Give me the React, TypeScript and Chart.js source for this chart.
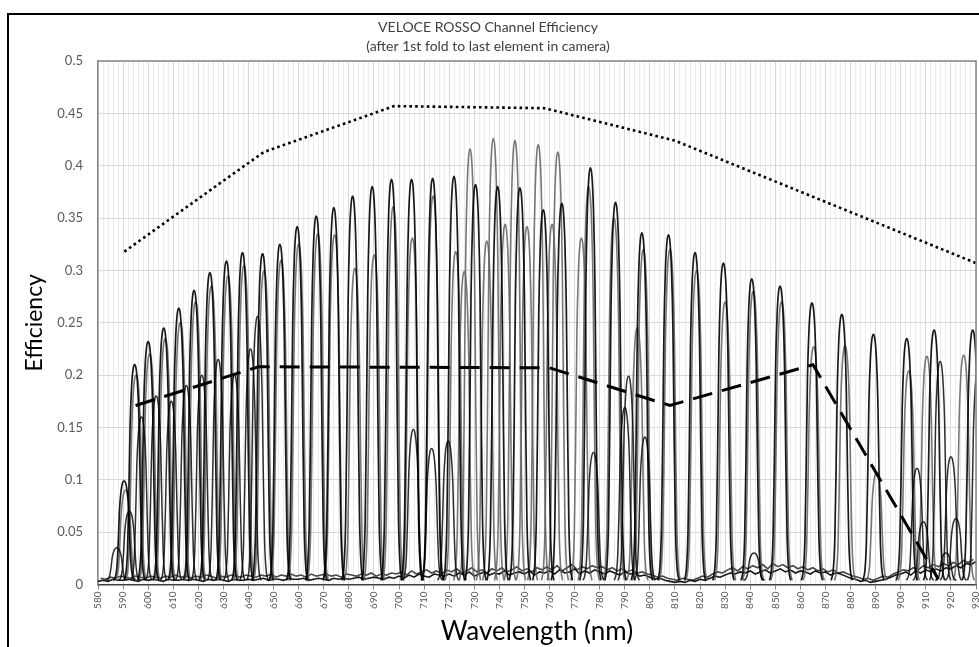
import React, { useEffect, useRef } from 'react';
import { Chart, registerables } from 'chart.js';

Chart.register(...registerables);

// ---------- data ----------
const titleLines = ['VELOCE ROSSO Channel Efficiency', '(after 1st fold to last element in camera)'];
const xAxisTitle = 'Wavelength (nm)';
const yAxisTitle = 'Efficiency';

const xMin = 580;
const xMax = 930;
const xStep = 2;
const xLabelEvery = 10;
const yMin = 0;
const yMax = 0.5;
const yStep = 0.05;

// black channel traces: peak centre (nm) and peak efficiency
const blackPeakCenters = [590.4, 594.6, 600.0, 606.2, 612.2, 618.3, 624.6, 631.2, 637.6, 645.6, 652.5, 659.4, 667.0, 674.0, 681.5, 689.3, 697.0, 705.0, 713.4, 721.9, 730.5, 739.3, 748.2, 757.5, 764.9, 776.3, 786.3, 796.8, 807.4, 818.0, 829.3, 840.6, 851.9, 864.6, 876.5, 889.1, 902.4, 913.3, 928.7];
const blackPeakHeights = [0.099, 0.210, 0.232, 0.245, 0.264, 0.281, 0.298, 0.309, 0.317, 0.316, 0.325, 0.342, 0.352, 0.360, 0.371, 0.380, 0.387, 0.387, 0.388, 0.390, 0.382, 0.380, 0.379, 0.358, 0.364, 0.398, 0.365, 0.336, 0.334, 0.317, 0.307, 0.292, 0.285, 0.269, 0.258, 0.239, 0.235, 0.243, 0.243];

// grey channel traces
const greyPeakCenters = [591.0, 595.2, 600.6, 606.8, 612.8, 618.9, 625.2, 631.8, 638.2, 646.2, 653.0, 660.0, 667.6, 674.3, 682.4, 690.1, 697.7, 705.3, 713.6, 722.6, 726.0, 728.3, 735.0, 737.6, 742.3, 746.2, 751.0, 755.5, 761.0, 763.3, 772.7, 775.6, 785.7, 795.0, 797.4, 808.0, 818.6, 830.0, 841.2, 852.5, 865.3, 877.8, 890.4, 903.2, 910.4, 925.1];
const greyPeakHeights = [0.090, 0.200, 0.220, 0.235, 0.250, 0.270, 0.285, 0.295, 0.305, 0.300, 0.310, 0.325, 0.335, 0.334, 0.302, 0.315, 0.361, 0.331, 0.371, 0.318, 0.299, 0.416, 0.328, 0.426, 0.344, 0.424, 0.342, 0.420, 0.344, 0.413, 0.331, 0.380, 0.350, 0.245, 0.320, 0.320, 0.300, 0.270, 0.280, 0.270, 0.227, 0.228, 0.107, 0.204, 0.218, 0.219];

// lower / interleaved traces
const lowPeakCenters = [587.5, 592.5, 597.3, 603.2, 609.2, 615.2, 621.4, 627.9, 634.4, 640.8, 643.6, 705.7, 713.0, 719.6, 777.5, 790.0, 791.5, 798.0, 841.5, 906.5, 909.0, 915.7, 918.0, 920.0, 922.0, 930.8];
const lowPeakHeights = [0.035, 0.070, 0.160, 0.180, 0.175, 0.190, 0.200, 0.215, 0.200, 0.225, 0.256, 0.148, 0.130, 0.137, 0.126, 0.169, 0.199, 0.141, 0.030, 0.111, 0.060, 0.213, 0.030, 0.122, 0.063, 0.205];

// shape of one channel peak (offset in nm, fraction of peak height)
const peakShapeOffsets = [-4.2, -3.4, -2.8, -2.3, -1.8, -1.2, -0.6, 0, 0.6, 1.2, 1.8, 2.3, 2.8, 3.4, 4.2];
const peakShapeLevels = [0, 0.04, 0.15, 0.4, 0.72, 0.9, 0.98, 1, 0.98, 0.9, 0.72, 0.4, 0.15, 0.04, 0];
const peakBase = 0.004;

// noise floor traces
const floorAStart = 580;
const floorAValues = [
  0.003, 0.004, 0.003, 0.005, 0.004, 0.004, 0.005, 0.004, 0.003, 0.005,
  0.004, 0.005, 0.004, 0.003, 0.005, 0.004, 0.004, 0.005, 0.004, 0.005,
  0.004, 0.003, 0.005, 0.004, 0.005, 0.004, 0.003, 0.005, 0.004, 0.004,
  0.005, 0.004, 0.005, 0.006, 0.004, 0.005, 0.005, 0.004, 0.006, 0.005,
  0.005, 0.006, 0.004, 0.005, 0.006, 0.005, 0.004, 0.006, 0.005, 0.006,
  0.005, 0.006, 0.007, 0.005, 0.006, 0.007, 0.006, 0.005, 0.007, 0.006,
  0.008, 0.006, 0.009, 0.007, 0.010, 0.008, 0.007, 0.010, 0.009, 0.008,
  0.010, 0.008, 0.011, 0.009, 0.012, 0.008, 0.010, 0.012, 0.009, 0.011,
  0.010, 0.013, 0.009, 0.011, 0.012, 0.010, 0.013, 0.009, 0.012, 0.011,
  0.013, 0.010, 0.014, 0.011, 0.012, 0.015, 0.010, 0.013, 0.011, 0.014,
  0.012, 0.010, 0.013, 0.011, 0.009, 0.012, 0.010, 0.011, 0.008, 0.009,
  0.007, 0.005, 0.006, 0.004, 0.003, 0.002, 0.003, 0.002, 0.004, 0.003,
  0.005, 0.004, 0.006, 0.008, 0.007, 0.009, 0.011, 0.010, 0.012, 0.011,
  0.013, 0.010, 0.012, 0.014, 0.011, 0.013, 0.015, 0.012, 0.014, 0.011,
  0.013, 0.012, 0.010, 0.013, 0.011, 0.012, 0.009, 0.011, 0.010, 0.008,
  0.006, 0.005, 0.003, 0.004, 0.002, 0.003, 0.004, 0.005, 0.007, 0.009,
  0.010, 0.012, 0.009, 0.013, 0.011, 0.014, 0.012, 0.015, 0.013, 0.016,
  0.015, 0.018, 0.016, 0.020, 0.019, 0.022,
];
const floorBStart = 581;
const floorBValues = [
  0.006, 0.005, 0.007, 0.006, 0.008, 0.007, 0.006, 0.008, 0.007, 0.006,
  0.008, 0.007, 0.006, 0.008, 0.007, 0.009, 0.007, 0.008, 0.006, 0.008,
  0.007, 0.009, 0.008, 0.006, 0.008, 0.007, 0.009, 0.008, 0.007, 0.009,
  0.008, 0.007, 0.009, 0.008, 0.010, 0.007, 0.009, 0.008, 0.010, 0.008,
  0.009, 0.007, 0.010, 0.008, 0.009, 0.010, 0.008, 0.009, 0.007, 0.010,
  0.009, 0.008, 0.010, 0.009, 0.011, 0.008, 0.010, 0.009, 0.011, 0.010,
  0.012, 0.009, 0.013, 0.010, 0.012, 0.014, 0.011, 0.013, 0.010, 0.014,
  0.012, 0.015, 0.011, 0.013, 0.016, 0.012, 0.014, 0.011, 0.015, 0.013,
  0.016, 0.012, 0.014, 0.017, 0.013, 0.015, 0.012, 0.016, 0.014, 0.017,
  0.014, 0.018, 0.013, 0.016, 0.019, 0.014, 0.017, 0.015, 0.018, 0.016,
  0.017, 0.014, 0.016, 0.013, 0.015, 0.012, 0.014, 0.011, 0.012, 0.010,
  0.009, 0.007, 0.008, 0.006, 0.005, 0.004, 0.006, 0.005, 0.004, 0.006,
  0.008, 0.007, 0.010, 0.012, 0.011, 0.014, 0.016, 0.013, 0.017, 0.015,
  0.018, 0.016, 0.019, 0.015, 0.020, 0.017, 0.019, 0.016, 0.018, 0.015,
  0.017, 0.014, 0.016, 0.013, 0.015, 0.012, 0.014, 0.011, 0.012, 0.010,
  0.008, 0.007, 0.005, 0.006, 0.004, 0.006, 0.008, 0.007, 0.010, 0.012,
  0.014, 0.013, 0.016, 0.014, 0.018, 0.016, 0.019, 0.017, 0.020, 0.018,
  0.021, 0.019, 0.023, 0.021, 0.024,
];

// reference curves
const dottedX = [590.5, 646, 698, 758, 810, 930];
const dottedY = [0.318, 0.413, 0.457, 0.455, 0.424, 0.307];
const dashedX = [595, 644, 760, 808, 865, 915];
const dashedY = [0.171, 0.208, 0.207, 0.171, 0.21, 0.005];

// ---------- helpers ----------
const FONT = 'Lato, "Open Sans", "Liberation Sans", sans-serif';

function peakPoints(c: number, h: number) {
  return peakShapeOffsets.map((o, i) => ({ x: c + o, y: peakBase + (h - peakBase) * peakShapeLevels[i] }));
}

function peakDatasets(centers: number[], heights: number[], color: string, width: number) {
  return centers.map((c, i) => ({
    data: peakPoints(c, heights[i]),
    borderColor: color,
    borderWidth: width,
    pointRadius: 0,
    fill: false,
    cubicInterpolationMode: 'monotone' as const,
  }));
}

const framePlugin = {
  id: 'plotFrame',
  afterDraw(chart: any) {
    const { ctx, chartArea } = chart;
    ctx.save();
    ctx.strokeStyle = '#868686';
    ctx.lineWidth = 1.5;
    ctx.beginPath();
    ctx.moveTo(chartArea.left, chartArea.top);
    ctx.lineTo(chartArea.right, chartArea.top);
    ctx.lineTo(chartArea.right, chartArea.bottom);
    ctx.stroke();
    ctx.restore();
  },
};

export default function App() {
  const canvasRef = useRef<HTMLCanvasElement | null>(null);

  useEffect(() => {
    const canvas = canvasRef.current;
    if (!canvas) return;

    const datasets: any[] = [];
    datasets.push({
      data: dottedX.map((x, i) => ({ x, y: dottedY[i] })),
      borderColor: '#000',
      borderWidth: 2.6,
      borderDash: [2.6, 3.2],
      pointRadius: 0,
      fill: false,
      tension: 0,
    });
    datasets.push({
      data: dashedX.map((x, i) => ({ x, y: dashedY[i] })),
      borderColor: '#000',
      borderWidth: 3,
      borderDash: [20, 10],
      pointRadius: 0,
      fill: false,
      tension: 0,
    });
    datasets.push(...peakDatasets(blackPeakCenters, blackPeakHeights, 'rgba(0,0,0,0.9)', 1.7));
    datasets.push(...peakDatasets(lowPeakCenters, lowPeakHeights, 'rgba(10,10,10,0.85)', 1.5));
    datasets.push(...peakDatasets(greyPeakCenters, greyPeakHeights, 'rgba(95,95,95,0.85)', 1.6));
    datasets.push({
      data: floorAValues.map((y, i) => ({ x: floorAStart + i * xStep, y })),
      borderColor: 'rgba(0,0,0,0.9)',
      borderWidth: 1.6,
      pointRadius: 0,
      fill: false,
    });
    datasets.push({
      data: floorBValues.map((y, i) => ({ x: floorBStart + i * xStep, y })),
      borderColor: 'rgba(40,40,40,0.85)',
      borderWidth: 1.6,
      pointRadius: 0,
      fill: false,
    });

    const chart = new Chart(canvas, {
      type: 'line',
      data: { datasets },
      options: {
        animation: false,
        responsive: false,
        events: [],
        layout: { padding: { left: 0, right: 24, top: 0, bottom: 0 } },
        plugins: {
          legend: { display: false },
          tooltip: { enabled: false },
          title: {
            display: true,
            text: titleLines,
            color: '#404040',
            font: { family: FONT, size: 14, weight: 'normal', lineHeight: 1.36 },
            padding: { top: 18, bottom: 5 },
          },
        },
        scales: {
          x: {
            type: 'linear',
            min: xMin,
            max: xMax,
            afterFit: (s: any) => { s.height = 62.5; },
            ticks: {
              stepSize: xStep,
              autoSkip: false,
              maxRotation: 90,
              minRotation: 90,
              padding: 2,
              color: '#595959',
              font: { family: FONT, size: 10 },
              callback: (v: any) => (Math.round(v) % xLabelEvery === 0 ? String(Math.round(v)) : ''),
            },
            grid: {
              color: (c: any) => (Math.round(c.tick.value) % xLabelEvery === 0 ? '#d9d9d9' : '#ebebeb'),
              tickColor: (c: any) => (Math.round(c.tick.value) % xLabelEvery === 0 ? '#868686' : 'rgba(0,0,0,0)'),
              tickLength: 5,
              lineWidth: 1,
            },
            border: { display: true, color: '#404040', width: 1.5 },
            title: {
              display: true,
              text: xAxisTitle,
              color: '#000',
              font: { family: FONT, size: 26 },
              padding: { top: 0, bottom: 0 },
            },
          },
          y: {
            type: 'linear',
            min: yMin,
            max: yMax,
            afterFit: (s: any) => { s.width = 98; },
            ticks: {
              stepSize: yStep,
              padding: 15,
              color: '#595959',
              font: { family: FONT, size: 13 },
              callback: (v: any) => String(Number(Number(v).toFixed(2))),
            },
            grid: { color: '#d9d9d9', lineWidth: 1, drawTicks: false },
            border: { display: true, color: '#868686', width: 1.5 },
            title: {
              display: true,
              text: yAxisTitle,
              color: '#000',
              font: { family: FONT, size: 23 },
              padding: { top: 21, bottom: 0 },
            },
          },
        },
      },
      plugins: [framePlugin],
    });

    return () => chart.destroy();
  }, []);

  return (
    <div style={{ position: 'fixed', left: 0, top: 0, width: 979, height: 647, overflow: 'hidden', background: '#fff' }}>
      <canvas ref={canvasRef} width={1000} height={647} style={{ position: 'absolute', left: 0, top: 0, width: 1000, height: 647 }} />
      <div style={{ position: 'absolute', left: 7, top: 13, width: 2000, height: 2000, borderLeft: '2px solid #000', borderTop: '2px solid #000', pointerEvents: 'none' }} />
    </div>
  );
}
